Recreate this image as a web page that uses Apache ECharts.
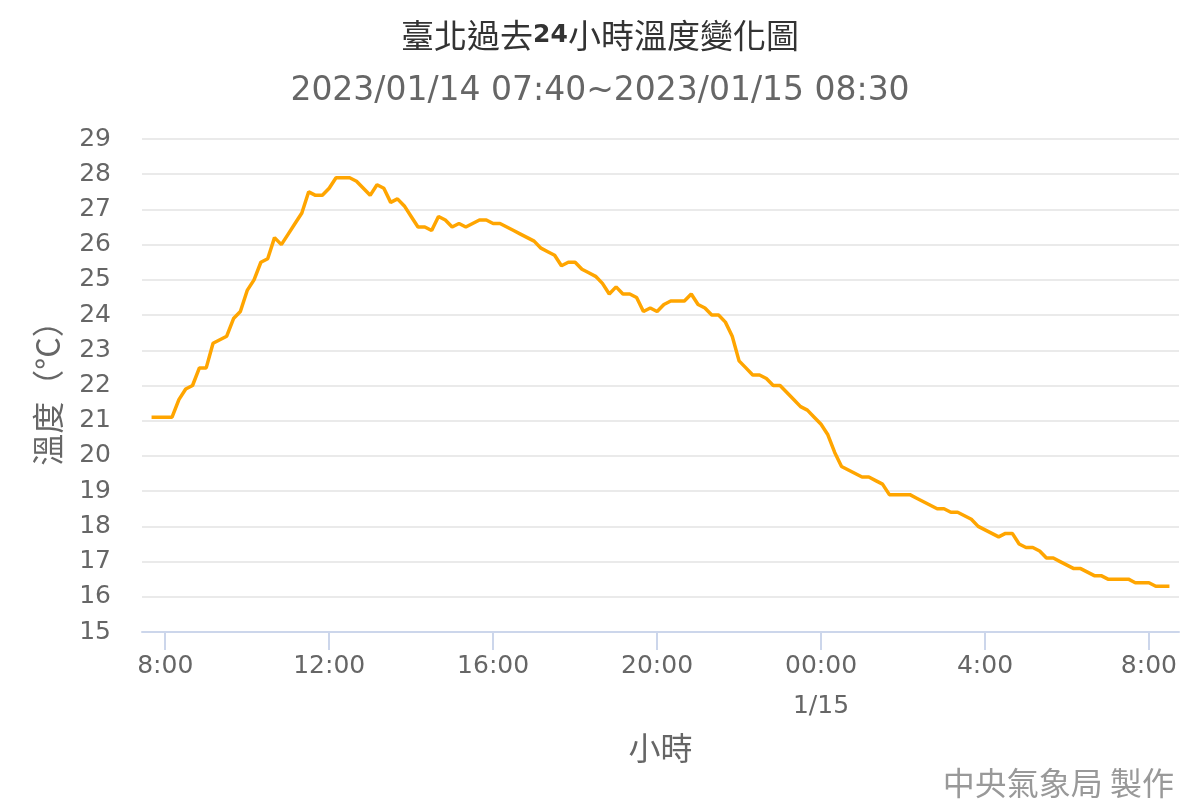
<!DOCTYPE html>
<html>
<head>
<meta charset="utf-8">
<script src="https://cdn.jsdelivr.net/npm/echarts@6/dist/echarts.min.js"></script>
<style>
html,body{margin:0;padding:0;background:#fff;}
#chart{width:1200px;height:800px;}
</style>
</head>
<body>
<div id="chart"></div>
<script>
// ---- data ----
const chartTitle = '臺北過去24小時溫度變化圖';
const chartSubtitle = '2023/01/14 07:40~2023/01/15 08:30';
const credit = '中央氣象局 製作';
const xAxisName = '小時';
const yAxisName = '溫度（°C）';

// observation times: minutes after 2023/01/14 00:00
const startMinute = 460;   // 07:40
const stepMinutes = 10;

const temps = [
  21.1,21.1,21.1,21.1,21.6,21.9,22.0,22.5,22.5,23.2,
  23.3,23.4,23.9,24.1,24.7,25.0,25.5,25.6,26.2,26.0,
  26.3,26.6,26.9,27.5,27.4,27.4,27.6,27.9,27.9,27.9,
  27.8,27.6,27.4,27.7,27.6,27.2,27.3,27.1,26.8,26.5,
  26.5,26.4,26.8,26.7,26.5,26.6,26.5,26.6,26.7,26.7,
  26.6,26.6,26.5,26.4,26.3,26.2,26.1,25.9,25.8,25.7,
  25.4,25.5,25.5,25.3,25.2,25.1,24.9,24.6,24.8,24.6,
  24.6,24.5,24.1,24.2,24.1,24.3,24.4,24.4,24.4,24.6,
  24.3,24.2,24.0,24.0,23.8,23.4,22.7,22.5,22.3,22.3,
  22.2,22.0,22.0,21.8,21.6,21.4,21.3,21.1,20.9,20.6,
  20.1,19.7,19.6,19.5,19.4,19.4,19.3,19.2,18.9,18.9,
  18.9,18.9,18.8,18.7,18.6,18.5,18.5,18.4,18.4,18.3,
  18.2,18.0,17.9,17.8,17.7,17.8,17.8,17.5,17.4,17.4,
  17.3,17.1,17.1,17.0,16.9,16.8,16.8,16.7,16.6,16.6,
  16.5,16.5,16.5,16.5,16.4,16.4,16.4,16.3,16.3,16.3
];

const tickMinutes = [480, 720, 960, 1200, 1440, 1680, 1920];
const tickLabels = ['8:00', '12:00', '16:00', '20:00', '00:00', '4:00', '8:00'];
const dateTickMinute = 1440;
const dateLabel = '1/15';

const xMin = 446, xMax = 1964;
const yMin = 15, yMax = 29, yStep = 1;

// ---- chart ----
const seriesData = temps.map((v, i) => [startMinute + i * stepMinutes, v]);
const LATIN = 'DejaVu Sans';
const CJK = '"Noto Sans CJK TC", "Noto Sans CJK SC", sans-serif';

const chart = echarts.init(document.getElementById('chart'), null, {renderer: 'canvas'});
chart.setOption({
  animation: false,
  backgroundColor: '#ffffff',
  title: [
    {
      text: chartTitle.replace('24', '{b|24}'),
      left: 'center', top: 14,
      textStyle: {
        fontFamily: CJK, fontSize: 33, fontWeight: 'normal', color: '#333333',
        rich: { b: { fontFamily: LATIN, fontWeight: 'bold', fontSize: 25, color: '#333333' } }
      }
    },
    {
      text: chartSubtitle,
      left: 'center', top: 70,
      textStyle: { fontFamily: LATIN, fontSize: 33, fontWeight: 'normal', color: '#666666' }
    },
    {
      text: credit,
      right: 21, top: 762,
      textStyle: { fontFamily: CJK, fontSize: 32, fontWeight: 'normal', color: '#999999' }
    }
  ],
  grid: { left: 142, right: 21, top: 139, bottom: 168, containLabel: false },
  xAxis: {
    type: 'value',
    min: xMin, max: xMax,
    name: xAxisName,
    nameLocation: 'middle',
    nameGap: 100,
    nameTextStyle: { fontFamily: CJK, fontSize: 32, color: '#666666' },
    axisLine: { show: true, lineStyle: { color: '#ccd6eb', width: 2 } },
    axisTick: { show: true, length: 18, customValues: tickMinutes, lineStyle: { color: '#ccd6eb', width: 2 } },
    splitLine: { show: false },
    axisLabel: {
      customValues: tickMinutes,
      margin: 14,
      fontFamily: LATIN, fontSize: 25, color: '#666666', lineHeight: 40,
      formatter: function (v) {
        const idx = tickMinutes.indexOf(v);
        const lbl = idx >= 0 ? tickLabels[idx] : '';
        return v === dateTickMinute ? lbl + '\n' + dateLabel : lbl;
      }
    }
  },
  yAxis: {
    type: 'value',
    min: yMin, max: yMax, interval: yStep,
    name: yAxisName,
    nameLocation: 'middle',
    nameGap: 78,
    nameTextStyle: { fontFamily: CJK, fontSize: 32, color: '#666666' },
    axisLine: { show: false },
    axisTick: { show: false },
    splitLine: { show: true, lineStyle: { color: '#e3e3e3', width: 1.5 } },
    axisLabel: {
      margin: 31,
      fontFamily: LATIN, fontSize: 25, color: '#666666',
      padding: [5, 0, 0, 0]
    }
  },
  series: [{
    type: 'line',
    data: seriesData,
    showSymbol: false,
    symbol: 'none',
    lineStyle: { color: '#FFA500', width: 3.5 },
    itemStyle: { color: '#FFA500' },
    z: 5
  }]
});
</script>
</body>
</html>
